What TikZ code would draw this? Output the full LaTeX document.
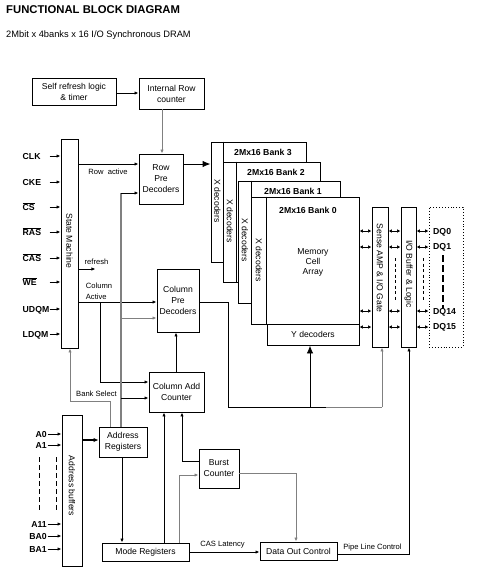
\documentclass[tikz,border=0pt]{standalone}
\usepackage{fontspec}
\setmainfont{Liberation Sans}
\usetikzlibrary{arrows.meta}
\newcommand\fsz[1]{\fontsize{#1}{11}\selectfont}
\newcommand\ovl[1]{\vbox{\hrule height 0.6pt\kern 0.9pt\hbox{#1}}}
\begin{document}
\begin{tikzpicture}[x=1pt,y=-1pt,
  box/.style={draw, fill=white, line width=0.95pt, inner sep=0pt, align=center, font=\fsz{8.6}},
  txt/.style={inner sep=0pt, align=center, font=\fsz{8.6}},
  btxt/.style={inner sep=0pt, font=\bfseries\fsz{8.7}},
  lbl/.style={inner sep=0pt, align=center, font=\fsz{7.6}},
  ln/.style={line width=0.95pt},
  gln/.style={line width=1pt, draw=black!50},
  arr/.style={ln, -{Latex[length=4pt,width=3.4pt]}},
  garr/.style={gln, -{Latex[length=4pt,width=3.4pt]}},
  bigarr/.style={ln, -{Latex[length=8pt,width=6.5pt]}},
  darr/.style={ln, {Latex[length=3.5pt,width=3.6pt]}-{Latex[length=3.5pt,width=3.6pt]}}
]
\useasboundingbox (0,0) rectangle (477,574);

% titles
\node[anchor=base west, inner sep=0pt, font=\bfseries\fsz{11.3}] (title) at (6,13.2) {FUNCTIONAL BLOCK DIAGRAM};
\node[anchor=base west, inner sep=0pt, font=\fsz{9.3}] (subtitle) at (6,37.4) {2Mbit x 4banks x 16 I/O Synchronous DRAM};

% top boxes
\node[box, minimum width=84pt, minimum height=27pt] (selfref) at (74,91.5) {Self refresh logic\\\& timer};
\node[box, minimum width=65pt, minimum height=31pt] (introw) at (171.5,93.5) {Internal Row\\counter};
\node[box, minimum width=44pt, minimum height=50pt] (rowpre) at (161,179) {Row\\Pre\\Decoders};

% state machine
\node[box, minimum width=17pt, minimum height=209pt] (sm) at (69.5,243.5) {};
\node[txt, rotate=-90] (smt) at (69.5,241) {State Machine};

\foreach \n/\t/\y in {clk/CLK/156, cke/CKE/182, cs/\ovl{CS}/207, ras/\ovl{RAS}/232, cas/\ovl{CAS}/258, we/\ovl{WE}/282, udqm/UDQM/309, ldqm/LDQM/334}{
  \node[btxt, anchor=base west] (l\n) at (22.5,\y+3.3) {\t};
  \draw[arr] ([xshift=-11pt]sm.west |- 0,\y) -- (sm.west |- 0,\y);
}

% column boxes
\node[box, minimum width=42pt, minimum height=63pt] (colpre) at (178,300.5) {Column\\Pre\\Decoders};
\node[box, minimum width=55pt, minimum height=40pt] (cac) at (176.5,392) {Column Add\\Counter};
\node[box, minimum width=48pt, minimum height=30pt] (addrreg) at (123,442) {Address\\Registers};
\node[box, minimum width=20pt, minimum height=151pt] (addrbuf) at (72,490.5) {};
\node[txt, rotate=-90] (abt) at (72,486) {Address buffers};
\node[box, minimum width=40pt, minimum height=39pt] (burst) at (219,468.5) {Burst\\Counter};
\node[box, minimum width=87pt, minimum height=18pt] (mode) at (145.5,552) {Mode Registers};
\node[box, minimum width=77pt, minimum height=18pt] (dataout) at (298.5,551) {Data Out Control};

% banks
\node[box, minimum width=95pt, minimum height=120pt] (b3) at (258.5,202) {};
\draw[ln] ([xshift=13pt]b3.north west) -- ([xshift=13pt]b3.south west);
\node[btxt] (b3t) at (263,152.7) {2Mx16 Bank 3};
\node[txt, rotate=-90] (b3x) at (217.5,201) {X decoders};

\node[box, minimum width=97pt, minimum height=120pt] (b2) at (271.5,222) {};
\draw[ln] ([xshift=14pt]b2.north west) -- ([xshift=14pt]b2.south west);
\node[btxt] (b2t) at (276,172.3) {2Mx16 Bank 2};
\node[txt, rotate=-90] (b2x) at (230,221) {X decoders};

\node[box, minimum width=102pt, minimum height=122pt] (b1) at (289,242) {};
\draw[ln] ([xshift=14pt]b1.north west) -- ([xshift=14pt]b1.south west);
\node[btxt] (b1t) at (293,191.7) {2Mx16 Bank 1};
\node[txt, rotate=-90] (b1x) at (245,240) {X decoders};

\node[box, minimum width=108pt, minimum height=127pt] (b0) at (305,260.5) {};
\draw[ln] ([xshift=16pt]b0.north west) -- ([xshift=16pt]b0.south west);
\node[btxt] (b0t) at (308,210) {2Mx16 Bank 0};
\node[txt, rotate=-90] (b0x) at (259,260) {X decoders};
\node[txt, font=\fontsize{8.6}{10}\selectfont] (mca) at (313,262) {Memory\\Cell\\Array};
\node[box, minimum width=92pt, minimum height=21pt] (ydec) at (313,334.5) {Y decoders};

% sense / io / dq
\node[box, minimum width=16pt, minimum height=140pt] (sense) at (380,277) {};
\node[txt, rotate=-90] (senset) at (380,268) {Sense AMP \& I/O Gate};
\node[box, minimum width=15pt, minimum height=140pt] (iobuf) at (408.5,277) {};
\node[txt, rotate=-90] (iobuft) at (408.5,274) {I/O Buffer \& Logic};
\node[draw, dotted, line width=0.9pt, minimum width=34pt, minimum height=140pt, inner sep=0pt] (dq) at (446,277) {};
\node[btxt, anchor=west] (dq0) at (433,232) {DQ0};
\node[btxt, anchor=west] (dq1) at (433,247) {DQ1};
\node[btxt, anchor=west] (dq14) at (433,312) {DQ14};
\node[btxt, anchor=west] (dq15) at (433,327) {DQ15};
\draw[line width=1.2pt, dash pattern=on 7pt off 3pt] (dq1.south -| 443,0) ++(0,4) coordinate (dqa) -- (dq14.north -| 443,0);
\draw[ln, dash pattern=on 3pt off 2.5pt] (sense.east |- 0,258) ++(6.5,0) -- ++(0,42);
\draw[ln, dash pattern=on 3pt off 2.5pt] (iobuf.east |- 0,258) ++(6.5,0) -- ++(0,42);

\foreach \y in {231,247,311,327}{
  \draw[darr] (b0.east |- 0,\y) -- (sense.west |- 0,\y);
  \draw[darr] (sense.east |- 0,\y) -- (iobuf.west |- 0,\y);
  \draw[darr] (iobuf.east |- 0,\y) -- (dq.west |- 0,\y);
}

% connectors top
\draw[arr] (selfref.east |- 0,93) -- (introw.west |- 0,93);
\draw[garr] (introw.south -| 162,0) -- (rowpre.north -| 162,0);
\draw[arr] (sm.east |- 0,164) -- (rowpre.west |- 0,164);
\node[lbl] (rowact) at (108,172) {Row~ active};
\draw[bigarr] (rowpre.east |- 0,164) -- (b3.west |- 0,164);

% refresh
\draw[arr] (sm.east |- 0,269) -- ([xshift=17pt]sm.east |- 0,269);
\node[lbl] (refl) at (96.5,261.7) {refresh};

% column active
\draw[arr] (sm.east |- 0,302) -- (colpre.west |- 0,302);
\draw[arr] (100,302) -- (100,382) -- (cac.west |- 0,382);
\node[lbl, align=left] (colact) at (99,291.5) {Column\\Active};

% address line to decoders
\draw[gln, line width=1.4pt] (addrreg.north -| 121,0) -- (121,193);
\draw[arr] (121,193) -- (rowpre.west |- 0,193);
\draw[garr] (121,318) -- (colpre.west |- 0,318);
\draw[arr] (121,398) -- (cac.west |- 0,398);

% bank select
\draw[garr] (addrreg.north -| 110,0) -- (110,401) -- (70,401) -- (sm.south -| 70,0);
\node[lbl] (banksel) at (96.5,394) {Bank Select};

% colpre -> cac
\draw[arr] (cac.north -| 176,0) -- (colpre.south -| 176,0);

% column decoder output
\draw[ln] (colpre.east |- 0,302) -- (228,302) -- (228,407) -- (326,407);
\draw[gln] (326,407) -- (382,407);
\draw[garr] (382,407) -- (sense.south -| 382,0);
\draw[bigarr] (310,407) -- (ydec.south -| 310,0);

% address inputs
\foreach \n/\t/\y in {a0/A0/434, a1/A1/445, a11/A11/524, ba0/BA0/536, ba1/BA1/549}{
  \node[btxt, anchor=base east] (l\n) at (47,\y+3.3) {\t};
  \draw[arr] ([xshift=-14pt]addrbuf.west |- 0,\y) -- (addrbuf.west |- 0,\y);
}
\draw[ln, dash pattern=on 5pt off 3pt] (39,457) -- (39,512);
\draw[ln, dash pattern=on 5pt off 3pt] (56,457) -- (56,512);
\draw[-{Latex[length=5pt,width=4.5pt]}, line width=1.8pt] (addrbuf.east |- 0,440) -- (addrreg.west |- 0,440);

% lower connectors
\draw[arr] (addrreg.south -| 122,0) -- (mode.north -| 122,0);
\draw[arr] (mode.north -| 164,0) -- (cac.south -| 164,0);
\draw[arr] (burst.west |- 0,461) -- (182,461) -- (cac.south -| 182,0);
\draw[garr] (mode.north -| 179,0) -- (179,475) -- (burst.west |- 0,475);
\draw[garr] (burst.east |- 0,473) -- (296,473) -- (dataout.north -| 296,0);
\draw[arr] (mode.east |- 0,552) -- (dataout.west |- 0,552);
\node[lbl] (casl) at (222.5,544.5) {CAS Latency};
\draw[arr] (dataout.east |- 0,554) -- (409,554) -- (iobuf.south -| 409,0);
\node[lbl] (plc) at (372.5,548) {Pipe Line Control};
\end{tikzpicture}
\end{document}
